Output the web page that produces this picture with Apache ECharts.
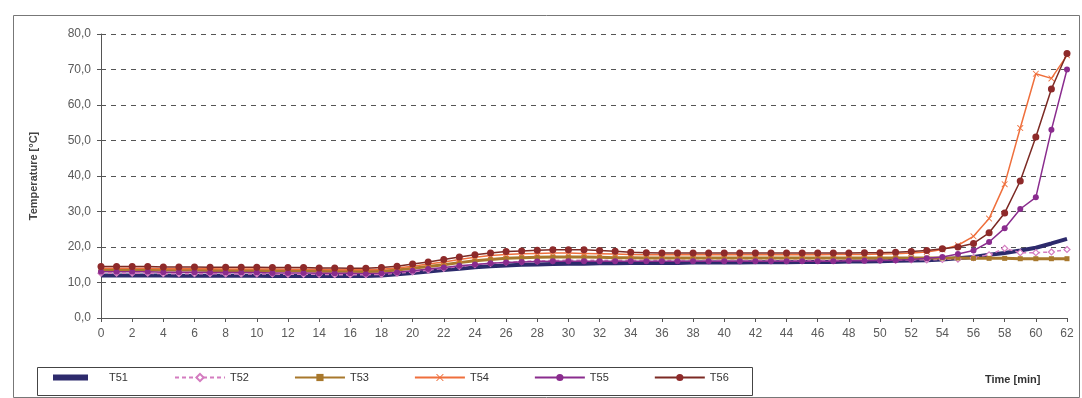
<!DOCTYPE html>
<html>
<head>
<meta charset="utf-8">
<script src="https://cdn.jsdelivr.net/npm/echarts@6/dist/echarts.min.js"></script>
<style>
html,body{margin:0;padding:0;background:#fff;}
#chart{width:1082px;height:398px;}
</style>
</head>
<body>
<div id="chart"></div>
<script>
// minutes 0..62
var minutes = [0,1,2,3,4,5,6,7,8,9,10,11,12,13,14,15,16,17,18,19,20,21,22,23,24,25,26,27,28,29,30,31,32,33,34,35,36,37,38,39,40,41,42,43,44,45,46,47,48,49,50,51,52,53,54,55,56,57,58,59,60,61,62];
var seriesNames = ['T51','T52','T53','T54','T55','T56'];
var T51 = [12.0,12.0,12.0,12.0,12.0,11.9,11.9,11.9,11.9,11.9,
           11.9,11.8,11.8,11.8,11.8,11.8,11.8,11.8,12.0,12.3,
           12.7,13.1,13.5,13.9,14.3,14.6,14.8,15.0,15.1,15.2,
           15.3,15.3,15.4,15.4,15.5,15.5,15.5,15.5,15.6,15.6,
           15.6,15.6,15.7,15.7,15.7,15.8,15.8,15.8,15.9,15.9,
           16.0,16.1,16.2,16.3,16.5,16.8,17.2,17.8,18.3,19.0,
           19.8,21.0,22.3];
var T52 = [12.6,12.6,12.6,12.6,12.5,12.5,12.5,12.5,12.4,12.4,
           12.4,12.4,12.3,12.3,12.3,12.2,12.2,12.2,12.3,12.6,
           13.0,13.5,14.0,14.5,15.0,15.4,15.7,15.9,16.1,16.2,
           16.3,16.3,16.3,16.3,16.3,16.3,16.3,16.3,16.3,16.3,
           16.3,16.3,16.3,16.3,16.3,16.3,16.3,16.3,16.3,16.3,
           16.3,16.3,16.4,16.4,16.5,16.6,17.0,17.8,19.6,18.4,
           18.4,18.6,19.3];
var T53 = [13.6,13.6,13.6,13.5,13.5,13.5,13.5,13.4,13.4,13.4,
           13.4,13.3,13.3,13.3,13.2,13.2,13.2,13.1,13.2,13.5,
           14.0,14.5,15.0,15.6,16.1,16.5,16.8,17.0,17.1,17.2,
           17.2,17.2,17.1,17.0,17.0,16.9,16.9,16.9,16.9,16.9,
           16.9,16.9,16.9,16.9,16.9,16.9,16.9,16.9,16.9,16.9,
           16.9,16.9,16.9,16.9,16.9,16.9,16.8,16.8,16.8,16.7,
           16.7,16.7,16.7];
var T54 = [14.0,14.0,14.0,14.0,13.9,13.9,13.9,13.9,13.8,13.8,
           13.8,13.8,13.7,13.7,13.7,13.6,13.6,13.6,13.7,14.1,
           14.6,15.2,15.8,16.5,17.1,17.6,17.9,18.1,18.2,18.3,
           18.3,18.2,18.1,18.0,17.9,17.8,17.8,17.8,17.8,17.8,
           17.8,17.8,17.8,17.8,17.8,17.8,17.8,17.9,17.9,17.9,
           18.0,18.1,18.3,18.6,19.3,20.5,23.0,28.0,37.7,53.5,
           68.8,67.5,74.0];
var T55 = [13.0,13.0,13.0,13.0,12.9,12.9,12.9,12.8,12.8,12.8,
           12.8,12.7,12.7,12.7,12.6,12.6,12.6,12.5,12.6,12.9,
           13.3,13.8,14.2,14.7,15.1,15.4,15.6,15.8,15.9,16.0,
           16.0,16.0,16.0,16.0,16.0,16.0,16.0,16.0,16.0,16.0,
           16.0,16.0,16.0,16.0,16.0,16.0,16.0,16.0,16.1,16.1,
           16.2,16.3,16.5,16.8,17.2,18.0,19.0,21.4,25.3,30.7,
           34.0,53.0,70.0];
var T56 = [14.5,14.5,14.5,14.5,14.4,14.4,14.4,14.3,14.3,14.3,
           14.3,14.2,14.2,14.2,14.1,14.1,14.0,14.0,14.2,14.6,
           15.2,15.8,16.5,17.2,17.8,18.3,18.7,18.9,19.1,19.2,
           19.2,19.2,19.0,18.8,18.5,18.4,18.3,18.3,18.3,18.3,
           18.3,18.3,18.3,18.3,18.3,18.3,18.3,18.3,18.3,18.4,
           18.4,18.5,18.7,19.0,19.5,20.0,21.0,24.0,29.6,38.6,
           51.0,64.5,74.5];

function pairs(arr){ return minutes.map(function(m,i){ return [m, arr[i]]; }); }

var xMark = 'path://M0,0 L1,0 L10,9 L10,10 L9,10 L0,1 Z M9,0 L10,0 L10,1 L1,10 L0,10 L0,9 Z';
var legendFont = {fontSize: 11, color: '#333', fontFamily: 'Liberation Sans, Arial, sans-serif'};

var chart = echarts.init(document.getElementById('chart'), null, {renderer:'canvas'});
var option = {
  animation: false,
  backgroundColor: '#fff',
  textStyle: {fontFamily: 'Liberation Sans, Arial, sans-serif'},
  grid: {left: 101, right: 15, top: 34, bottom: 80},
  graphic: [
    {type:'rect', left: 11, top: 13, shape:{width:1066, height:382}, style:{fill:'none', stroke:'#777', lineWidth:1}, silent:true, z:-1},
    {type:'rect', left: 35, top: 365, shape:{width:715, height:28}, style:{fill:'none', stroke:'#444', lineWidth:1}, silent:true, z:-1},
    {type:'text', left: 985, top: 374, style:{text:'Time [min]', font:'bold 11px Liberation Sans, Arial, sans-serif', fill:'#333'}}
  ],
  legend: [
    {
      left: 53, top: 372, padding: 0,
      itemWidth: 35, itemHeight: 6, icon: 'rect',
      textStyle: Object.assign({padding: [0, 0, 0, 16]}, legendFont),
      data: ['T51']
    },
    {
      left: 174, top: 372, padding: 0,
      orient: 'horizontal',
      itemWidth: 50, itemHeight: 9, itemGap: 45,
      textStyle: legendFont,
      data: ['T52', 'T53', 'T54', 'T55', 'T56']
    }
  ],
  xAxis: {
    type: 'value', min: 0, max: 62, interval: 2,
    axisLine: {show: true, lineStyle: {color: '#555', width: 1}},
    axisTick: {show: true, length: 4, lineStyle: {color: '#555'}},
    axisLabel: {fontSize: 12, color: '#5a5a5a', margin: 10},
    splitLine: {show: false}
  },
  yAxis: {
    type: 'value', min: 0, max: 80, interval: 10,
    name: 'Temperature [°C]', nameLocation: 'middle', nameGap: 62, nameRotate: 90,
    nameTextStyle: {fontSize: 11, fontWeight: 'bold', color: '#444'},
    axisLine: {show: true, lineStyle: {color: '#555', width: 1}},
    axisTick: {show: true, length: 4, lineStyle: {color: '#555'}},
    axisLabel: {fontSize: 12, color: '#5a5a5a', margin: 10,
      formatter: function(v){ return v.toFixed(1).replace('.', ','); }},
    splitLine: {show: true, lineStyle: {color: '#555', type: [5,5], width: 1}}
  },
  series: [
    {name:'T51', type:'line', data: pairs(T51), symbol:'none', showSymbol:false,
     lineStyle:{color:'#2d2a6c', width:4}, itemStyle:{color:'#2d2a6c'}, z:2},
    {name:'T52', type:'line', data: pairs(T52), symbol:'diamond', symbolSize:6,
     lineStyle:{color:'#d47cc0', width:1.5, type:[4,3]}, itemStyle:{color:'#fff', borderColor:'#d47cc0', borderWidth:1.2}, z:3},
    {name:'T53', type:'line', data: pairs(T53), symbol:'rect', symbolSize:5,
     lineStyle:{color:'#a8782c', width:3}, itemStyle:{color:'#a8782c'}, z:3},
    {name:'T54', type:'line', data: pairs(T54), symbol: xMark, symbolSize:6,
     lineStyle:{color:'#ef6f3c', width:1.5}, itemStyle:{color:'#ef6f3c'}, z:4},
    {name:'T55', type:'line', data: pairs(T55), symbol:'circle', symbolSize:6,
     lineStyle:{color:'#8a2c8e', width:1.5}, itemStyle:{color:'#8a2c8e'}, z:4},
    {name:'T56', type:'line', data: pairs(T56), symbol:'circle', symbolSize:7,
     lineStyle:{color:'#7c2a24', width:1.5}, itemStyle:{color:'#8e2a2a'}, z:5}
  ]
};
chart.setOption(option);
</script>
</body>
</html>
